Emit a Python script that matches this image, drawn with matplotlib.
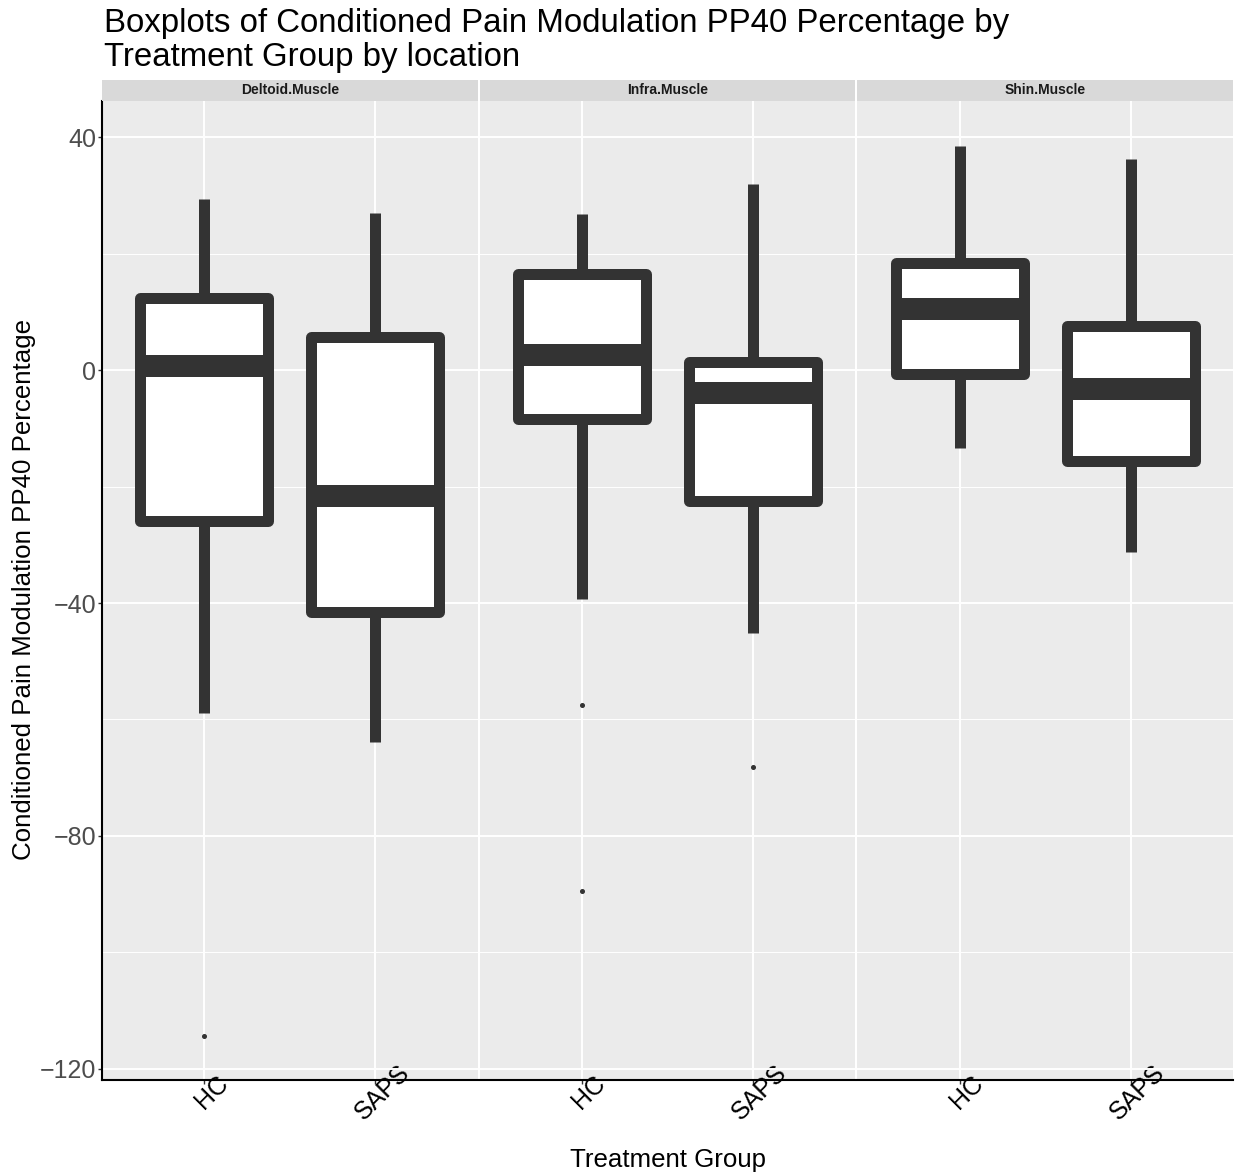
"""Faceted boxplots of CPM PP40 percentage by treatment group and location."""

import matplotlib

matplotlib.use("Agg")

import matplotlib.pyplot as plt
from matplotlib.transforms import ScaledTranslation

plt.rcParams["font.family"] = ["Liberation Sans", "DejaVu Sans"]

# data (one entry per location, then HC / SAPS)
locations = ["Deltoid.Muscle", "Infra.Muscle", "Shin.Muscle"]
groups = ["HC", "SAPS"]
whisker_low = [[-58.9, -63.8], [-39.3, -45.1], [-13.3, -31.2]]
quartile_1 = [[-25.9, -41.5], [-8.4, -22.5], [-0.6, -15.6]]
medians = [[0.7, -21.6], [2.6, -4.0], [10.4, -3.3]]
quartile_3 = [[12.3, 5.6], [16.5, 1.3], [18.4, 7.6]]
whisker_high = [[29.3, 27.0], [26.8, 32.0], [38.5, 36.2]]
outliers = [[[-114.3], []], [[-57.5, -89.5], [-68.2]], [[], []]]
y_ticks = [40, 0, -40, -80, -120]
y_minor = [20, -20, -60, -100]

W, H = 1239, 1174
DPI = 100
fig = plt.figure(figsize=(W / DPI, H / DPI), dpi=DPI, facecolor="white")

panel_left, panel_right = 102, 1233
panel_top, panel_bottom = 101, 1080
strip_h = 21
gap = 2
panel_w = (panel_right - panel_left - 2 * gap) / 3

dark = "#333333"
line_px = 11
lw = line_px * 72 / DPI

for i, loc in enumerate(locations):
    x0 = panel_left + i * (panel_w + gap)
    ax = fig.add_axes([x0 / W, 1 - panel_bottom / H, panel_w / W, (panel_bottom - panel_top) / H])
    ax.set_facecolor("#EBEBEB")

    stats = []
    for j, grp in enumerate(groups):
        stats.append(
            {
                "whislo": whisker_low[i][j],
                "q1": quartile_1[i][j],
                "med": medians[i][j],
                "q3": quartile_3[i][j],
                "whishi": whisker_high[i][j],
                "fliers": outliers[i][j],
                "label": grp,
            }
        )
    ax.bxp(
        stats,
        positions=[1, 2],
        widths=0.75,
        showcaps=False,
        patch_artist=True,
        boxprops={"facecolor": "white", "edgecolor": dark, "linewidth": lw, "joinstyle": "round"},
        whiskerprops={"color": dark, "linewidth": lw, "solid_capstyle": "butt"},
        medianprops={"color": dark, "linewidth": lw * 2, "solid_capstyle": "butt"},
        flierprops={"marker": "o", "markersize": 2.6, "markerfacecolor": dark,
                    "markeredgecolor": dark, "linestyle": "none"},
        zorder=3,
    )

    ax.set_xlim(0.4, 2.6)
    ax.set_ylim(-121.9, 46.2)
    ax.set_yticks(y_ticks)
    ax.set_yticks(y_minor, minor=True)
    ax.grid(True, which="major", color="white", linewidth=1.4, zorder=0)
    ax.grid(True, which="minor", axis="y", color="white", linewidth=0.7, zorder=0)
    ax.set_axisbelow(True)

    for side in ["top", "right"]:
        ax.spines[side].set_visible(False)
    ax.spines["bottom"].set_color("black")
    ax.spines["bottom"].set_linewidth(1.5)
    if i == 0:
        ax.spines["left"].set_color("black")
        ax.spines["left"].set_linewidth(1.5)
        ax.set_yticklabels([str(t).replace("-", "\u2212") for t in y_ticks])
        ax.tick_params(axis="y", which="major", labelsize=18, labelcolor="#4D4D4D",
                       length=3, width=1, color="#333333", pad=1)
    else:
        ax.spines["left"].set_visible(False)
        ax.tick_params(axis="y", which="major", left=False, labelleft=False)
    ax.tick_params(axis="y", which="minor", left=False)

    ax.set_xticks([1, 2])
    ax.set_xticklabels(groups, rotation=45, ha="center", va="center",
                       rotation_mode="anchor", fontsize=18, color="black")
    ax.tick_params(axis="x", length=3, width=1, color="#333333", pad=6)
    for lab in ax.get_xticklabels():
        lab.set_transform(lab.get_transform() + ScaledTranslation(7 / DPI, 0, fig.dpi_scale_trans))

    # facet strip
    sx = fig.add_axes([x0 / W, 1 - panel_top / H, panel_w / W, strip_h / H])
    sx.set_facecolor("#D9D9D9")
    sx.set_xticks([])
    sx.set_yticks([])
    for sp in sx.spines.values():
        sp.set_visible(False)
    sx.text(0.5, 0.5, loc, ha="center", va="center", fontsize=10,
            fontweight="bold", color="#1A1A1A", transform=sx.transAxes)

fig.text(104 / W, 1 - 8 / H,
         "Boxplots of Conditioned Pain Modulation PP40 Percentage by\nTreatment Group by location",
         ha="left", va="top", fontsize=23.8, linespacing=1.13, color="black")
fig.text(24 / W, 1 - 589 / H, "Conditioned Pain Modulation PP40 Percentage",
         rotation=90, ha="center", va="center", fontsize=18.6, color="black")
fig.text(668 / W, 1 - 1160 / H, "Treatment Group", ha="center", va="center",
         fontsize=18.6, color="black")

fig.savefig("out.png", dpi=DPI, facecolor="white")
